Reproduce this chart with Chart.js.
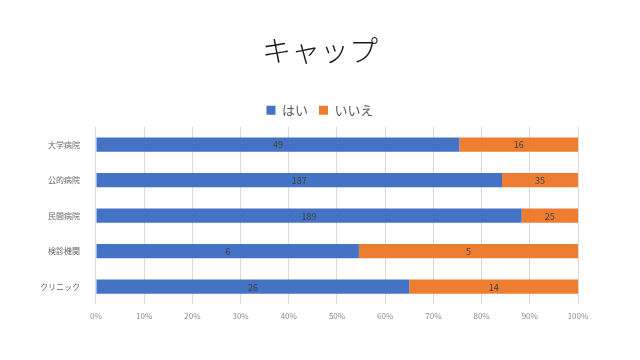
<!DOCTYPE html>
<html><head><meta charset="utf-8">
<script src="https://cdn.jsdelivr.net/npm/chart.js@4/dist/chart.umd.min.js"></script>
<style>html,body{margin:0;padding:0;background:#fff}canvas{display:block}</style>
</head><body>
<canvas id="c" width="640" height="360"></canvas>
<script>
const categories = ['大学病院','公的病院','民間病院','検診機関','クリニック'];
const yesCounts = [49,187,189,6,26];
const noCounts = [16,35,25,5,14];
const seriesNames = ['はい','いいえ'];
const xTickLabels = ['0%','10%','20%','30%','40%','50%','60%','70%','80%','90%','100%'];

const totals = yesCounts.map((v,i)=>v+noCounts[i]);
const yesPct = yesCounts.map((v,i)=>v/totals[i]*100);
const noPct = noCounts.map((v,i)=>v/totals[i]*100);
const FONT = '"Noto Sans CJK JP", "Noto Sans", sans-serif';

const labelPlugin = {
  id:'barLabels',
  afterDatasetsDraw(chart){
    const ctx = chart.ctx;
    ctx.save();
    ctx.font = '9px ' + FONT;
    ctx.fillStyle = '#404040';
    ctx.textAlign = 'center';
    ctx.textBaseline = 'middle';
    chart.data.datasets.forEach((ds,di)=>{
      const meta = chart.getDatasetMeta(di);
      meta.data.forEach((bar,i)=>{
        const cx = (bar.x + bar.base)/2;
        ctx.fillText(String(ds.counts[i]), cx, bar.y+0.5);
      });
    });
    ctx.restore();
  }
};

new Chart(document.getElementById('c'), {
  type:'bar',
  data:{
    labels: categories,
    datasets:[
      {label:seriesNames[0], data:yesPct, counts:yesCounts, backgroundColor:'#4472C4', borderWidth:0, barPercentage:0.4, categoryPercentage:1},
      {label:seriesNames[1], data:noPct, counts:noCounts, backgroundColor:'#ED7D31', borderWidth:0, barPercentage:0.4, categoryPercentage:1}
    ]
  },
  options:{
    responsive:false,
    animation:false,
    indexAxis:'y',
    layout:{padding:{left:32,right:32,top:20,bottom:32}},
    plugins:{
      title:{display:true,text:'キャップ',color:'#1a1a1a',font:{family:FONT,size:29,weight:'300'},padding:{top:14,bottom:24}},
      legend:{position:'top',labels:{color:'#595959',font:{family:FONT,size:13},boxWidth:9,boxHeight:9,padding:11}},
      tooltip:{enabled:false}
    },
    scales:{
      x:{stacked:true,min:0,max:100,
        grid:{color:'#d9d9d9',drawTicks:false},
        border:{display:false},
        ticks:{stepSize:10,color:'#8c8c8c',padding:7,font:{family:FONT,size:8},callback:(v,i)=>xTickLabels[i]}
      },
      y:{stacked:true,
        grid:{display:false},
        border:{display:false},
        ticks:{color:'#666666',padding:8,font:{family:FONT,size:8}}
      },
      yRight:{type:'linear',position:'right',display:true,
        grid:{display:false},border:{display:false},ticks:{display:false},
        afterFit(scale){scale.width=30;}
      }
    }
  },
  plugins:[labelPlugin]
});
</script>
</body></html>
